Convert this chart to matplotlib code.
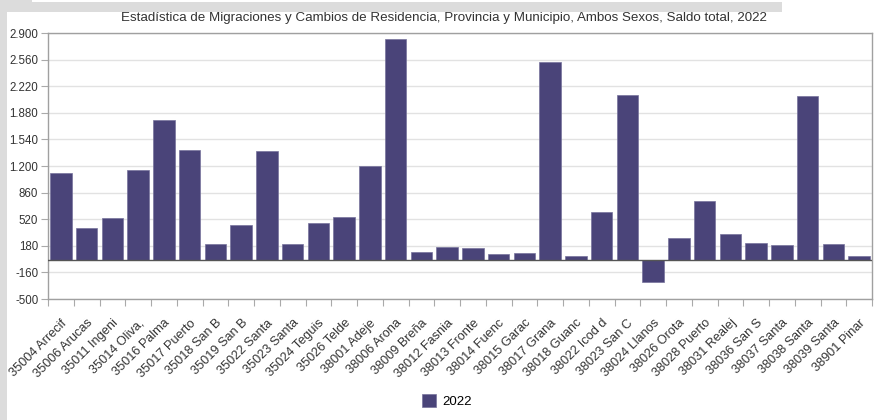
import matplotlib
matplotlib.use("Agg")
import matplotlib.pyplot as plt
from matplotlib.patches import Rectangle
from matplotlib.ticker import FixedLocator, FuncFormatter

plt.rcParams['font.family'] = ['Liberation Sans', 'DejaVu Sans']

# data
municipios = [
    "35004 Arrecif", "35006 Arucas", "35011 Ingeni", "35014 Oliva,", "35016 Palma",
    "35017 Puerto", "35018 San B", "35019 San B", "35022 Santa", "35023 Santa",
    "35024 Teguis", "35026 Telde", "38001 Adeje", "38006 Arona", "38009 Breña",
    "38012 Fasnia", "38013 Fronte", "38014 Fuenc", "38015 Garac", "38017 Grana",
    "38018 Guanc", "38022 Icod d", "38023 San C", "38024 Llanos", "38026 Orota",
    "38028 Puerto", "38031 Realej", "38036 San S", "38037 Santa", "38038 Santa",
    "38039 Santa", "38901 Pinar",
]
saldo_2022 = [
    1116, 404, 537, 1150, 1790, 1400, 197, 442, 1387, 197,
    468, 554, 1198, 2820, 107, 159, 150, 77, 82, 2533,
    47, 618, 2104, -279, 279, 747, 335, 210, 189, 2095,
    206, 56,
]
y_ticks = [2900, 2560, 2220, 1880, 1540, 1200, 860, 520, 180, -160, -500]
titulo = "Estadística de Migraciones y Cambios de Residencia, Provincia y Municipio, Ambos Sexos, Saldo total, 2022"
serie = "2022"

bar_color = "#4a4479"

fig = plt.figure(figsize=(8.77, 4.2), dpi=100)
fig.patch.set_facecolor("white")

# grey page frame around the widget
fig.patches.append(Rectangle((0, 1 - 12 / 420), 782 / 877, 12 / 420, transform=fig.transFigure,
                             facecolor="#dcdcdc", edgecolor="none", zorder=0))
fig.patches.append(Rectangle((32 / 877, 1 - 2 / 420), 750 / 877, 2 / 420, transform=fig.transFigure,
                             facecolor="white", edgecolor="none", zorder=1))
fig.patches.append(Rectangle((0, 0), 7 / 877, 1, transform=fig.transFigure,
                             facecolor="#dcdcdc", edgecolor="none", zorder=0))

ax = fig.add_axes([48 / 877, 121 / 420, 824 / 877, 266 / 420])

x = list(range(len(municipios)))
ax.bar(x, saldo_2022, width=0.84, color=bar_color, edgecolor="#77739c", linewidth=0.5,
       zorder=3, label=serie)
ax.axhline(0, color="#555555", linewidth=1, zorder=4)

ax.set_xlim(-0.5, len(municipios) - 0.5)
ax.set_ylim(-500, 2900)
ax.yaxis.set_major_locator(FixedLocator(y_ticks))
ax.yaxis.set_major_formatter(FuncFormatter(lambda v, p: f"{int(v):,}".replace(",", ".")))
ax.grid(axis="y", color="#e2e2e2", linewidth=1, zorder=0)

ax.set_xticks([i - 0.5 for i in range(len(municipios) + 1)])
ax.set_xticklabels([])
ax.set_xticks(x, minor=True)
ax.set_xticklabels(municipios, minor=True, rotation=45, ha="right", va="top",
                   rotation_mode="anchor", fontsize=9.2, color="#333333")
ax.tick_params(axis="x", which="minor", length=0, pad=13)
ax.tick_params(axis="x", which="major", length=5, color="#aaaaaa")
ax.tick_params(axis="y", length=5, color="#aaaaaa", labelsize=8.3, labelcolor="#333333", pad=2)

for s in ax.spines.values():
    s.set_color("#a0a0a0")
    s.set_linewidth(1)

fig.text(444 / 877, 1 - 18 / 420, titulo, ha="center", va="center", fontsize=9.6, color="#333333")

fig.legend(loc="center", bbox_to_anchor=(447 / 877, 1 - 401 / 420), frameon=False,
           fontsize=9.5, handlelength=1.1, handleheight=1.1, handletextpad=0.5)

fig.savefig("out.png", dpi=100)
